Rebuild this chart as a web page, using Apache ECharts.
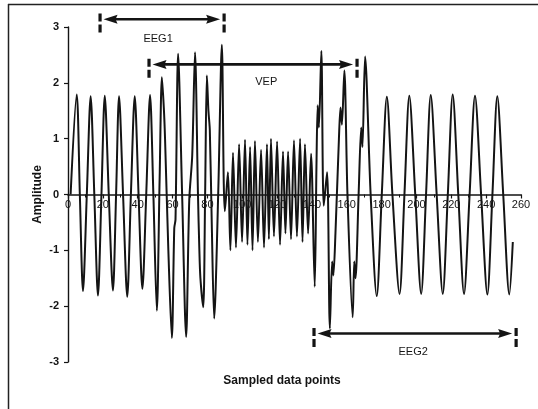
<!DOCTYPE html>
<html>
<head>
<meta charset="utf-8">
<style>
  html, body { margin: 0; padding: 0; background: #ffffff; }
  #chart { width: 538px; height: 409px; }
</style>
<script src="https://cdn.jsdelivr.net/npm/echarts@6/dist/echarts.min.js"></script>
</head>
<body>
<div id="chart"></div>
<script>
// ---- data ----
const xTickLabels = [0, 20, 40, 60, 80, 100, 120, 140, 160, 180, 200, 220, 240, 260];
const yTickLabels = [-3, -2, -1, 0, 1, 2, 3];

// sample positions (x) and amplitudes (y) of the traced signal
const sampleIdx = [
  1.5, 5.0, 6.8, 8.6, 10.8, 13.0, 15.1, 17.2, 19.2, 21.1, 23.4, 25.8, 27.6, 29.3, 31.6, 34.0,
  36.1, 38.3, 40.5, 42.7, 44.9, 47.1, 49.0, 51.0,
  52.6, 53.9, 55.0, 55.7, 57.6, 59.6, 61.0, 61.7, 63.2, 65.5, 67.8, 69.6, 71.3, 72.9, 74.6,
  75.4, 76.0, 77.6, 78.7, 79.7, 80.6, 81.4, 82.5, 83.9, 86.2, 88.3, 89.4, 90.0,
  91.8, 93.2, 94.7, 96.4, 98.2, 99.9, 101.6, 103.0, 104.5, 105.9, 107.3, 109.0, 110.8, 112.5,
  114.2, 115.3, 116.5, 118.2, 120.0, 121.7, 123.4, 124.8, 126.3, 128.0, 129.7, 131.4, 133.2,
  134.6, 136.0, 137.8, 139.5, 141.6,
  142.6, 143.3, 144.0, 145.4, 146.8, 148.7, 150.3, 151.6, 152.3, 153.5, 155.5, 156.4, 157.2,
  158.6, 160.4, 163.4, 164.3, 165.0, 166.8, 168.3, 169.0, 170.5, 173.7, 177.2, 180.1, 183.0,
  186.2,
  190.3, 193.1, 195.9, 199.3, 202.7, 205.5, 208.2, 211.6, 215.1, 218.0, 220.8, 224.0, 227.3,
  230.5, 233.6, 237.1, 240.7, 243.6, 246.4, 249.8, 253.3, 255.3
];
const amplitude = [
  0.00, 1.79, 0.00, -1.73, 0.00, 1.76, 0.00, -1.81, 0.00, 1.77, 0.00, -1.72, 0.00, 1.76, 0.00, -1.83,
  0.00, 1.76, 0.00, -1.69, 0.00, 1.78, 0.00, -2.08,
  0.30, 2.10, 1.55, 1.00, -1.00, -2.57, -0.60, -0.45, 2.52, 0.00, -2.55, -0.10, 0.70, 2.55, 0.00,
  -1.00, -1.50, -2.02, 0.00, 2.13, 1.50, 1.15, -0.50, -2.22, 0.00, 2.68, 0.20, -0.30,
  0.40, -1.00, 0.75, -0.95, 0.90, -0.85, 0.98, -0.90, 0.85, -1.00, 0.96, -0.85, 0.80, -0.95,
  0.90, -0.80, 1.00, -0.75, 0.95, -0.90, 0.77, -0.70, 0.77, -0.80, 0.97, -0.75, 1.00,
  -0.85, 0.90, -0.70, 0.73, -1.65,
  0.50, 1.60, 1.20, 2.57, -0.20, 0.40, -2.40, -1.20, -1.45, -0.70, 1.00, 1.56, 1.25,
  2.22, 0.00, -2.20, -1.20, -1.50, 0.00, 1.20, 0.85, 2.47, 0.00, -1.82, 0.00, 1.75,
  0.00,
  -1.78, 0.00, 1.77, 0.00, -1.78, 0.00, 1.78, 0.00, -1.78, 0.00, 1.79, 0.00, -1.78,
  0.00, 1.77, 0.00, -1.79, 0.00, 1.76, 0.00, -1.79, -0.85
];

// annotation segments (in sample / amplitude units)
const annNames  = ['EEG1', 'VEP', 'EEG2'];
const annStart  = [18.4, 46.5, 141.2];
const annEnd    = [89.6, 165.9, 257.2];
const annLevel  = [3.14, 2.33, -2.49];
const annLabelX = [51.7, 113.8, 198.1];
const annLabelY = [2.79, 2.01, -2.82];

// ---- chart ----
const chart = echarts.init(document.getElementById('chart'), null, { renderer: 'canvas' });
const ink = '#141414';
const fontFam = '"Liberation Sans", Arial, Helvetica, sans-serif';

const signal = sampleIdx.map((x, i) => [x, amplitude[i]]);
const annData = annNames.map((n, i) => [annStart[i], annEnd[i], annLevel[i], annLabelX[i], annLabelY[i]]);

const option = {
  animation: false,
  backgroundColor: '#ffffff',
  grid: [
    { left: 68, right: 17, top: 27, bottom: 47, containLabel: false },
    // helper grid whose bottom edge sits on the zero line: carries the x tick labels
    { left: 68, right: 17, top: 27, height: 167.5, containLabel: false }
  ],
  xAxis: [
    {
      type: 'value', gridIndex: 0,
      min: 0, max: 260, interval: 20,
      axisLine: { show: true, onZero: true, lineStyle: { color: ink, width: 1.6 } },
      axisTick: { show: true, inside: false, length: 4, lineStyle: { color: ink, width: 1.2 } },
      minorTick: { show: true, splitNumber: 2, length: 3, lineStyle: { color: ink, width: 1 } },
      axisLabel: { show: false },
      splitLine: { show: false }
    },
    {
      type: 'value', gridIndex: 1,
      min: 0, max: 260, interval: 20,
      axisLine: { show: false },
      axisTick: { show: false },
      axisLabel: {
        show: true, margin: 5, color: ink, fontSize: 11, fontFamily: fontFam,
        formatter: (v) => (xTickLabels.indexOf(v) >= 0 ? String(v) : '')
      },
      splitLine: { show: false }
    }
  ],
  yAxis: [
    {
      type: 'value', gridIndex: 0,
      min: -3, max: 3, interval: 1,
      name: 'Amplitude',
      nameLocation: 'middle',
      nameGap: 24,
      nameMoveOverlap: false,
      nameRotate: 90,
      nameTextStyle: { color: ink, fontSize: 12, fontWeight: 'bold', fontFamily: fontFam },
      axisLine: { show: true, onZero: false, lineStyle: { color: ink, width: 1.4 } },
      axisTick: { show: true, inside: false, length: 4, lineStyle: { color: ink, width: 1.2 } },
      axisLabel: {
        show: true, margin: 9, color: ink, fontSize: 11, fontWeight: 'bold', fontFamily: fontFam,
        formatter: (v) => (yTickLabels.indexOf(v) >= 0 ? String(v) : '')
      },
      splitLine: { show: false }
    },
    { type: 'value', gridIndex: 1, min: 0, max: 1, show: false }
  ],
  graphic: [
    { type: 'line', silent: true, shape: { x1: 8.5, y1: 4, x2: 8.5, y2: 409 }, style: { stroke: '#222', lineWidth: 1.5 } },
    { type: 'line', silent: true, shape: { x1: 8, y1: 4.5, x2: 538, y2: 4.5 }, style: { stroke: '#222', lineWidth: 1.5 } },
    {
      type: 'text', silent: true, x: 282, y: 381,
      style: { text: 'Sampled data points', fill: ink, font: 'bold 12px ' + fontFam, textAlign: 'center', textVerticalAlign: 'middle' }
    }
  ],
  series: [
    {
      type: 'line',
      xAxisIndex: 0, yAxisIndex: 0,
      data: signal,
      showSymbol: false,
      smooth: 0.3,
      lineStyle: { color: ink, width: 2 },
      z: 2
    },
    {
      type: 'custom',
      xAxisIndex: 0, yAxisIndex: 0,
      coordinateSystem: 'cartesian2d',
      clip: false,
      silent: true,
      data: annData,
      encode: { x: [0, 1, 3], y: [2, 4] },
      z: 3,
      renderItem: function (params, api) {
        const name = annNames[params.dataIndex];
        const lvl = api.value(2);
        const a = api.coord([api.value(0), lvl]);
        const b = api.coord([api.value(1), lvl]);
        const lab = api.coord([api.value(3), api.value(4)]);
        const topA = api.coord([api.value(0), lvl + 0.1])[1];
        const botA = api.coord([api.value(0), lvl - 0.25])[1];
        const y = a[1];
        const xl = a[0] + 3.5, xr = b[0] - 4;
        const headL = 14, headW = 4.5;
        const markerStyle = { stroke: ink, lineWidth: 3.2, lineDash: [8, 3] };
        return {
          type: 'group',
          children: [
            { type: 'line', shape: { x1: a[0], y1: topA, x2: a[0], y2: botA }, style: markerStyle },
            { type: 'line', shape: { x1: b[0], y1: topA, x2: b[0], y2: botA }, style: markerStyle },
            { type: 'line', shape: { x1: xl + 6, y1: y, x2: xr - 6, y2: y }, style: { stroke: ink, lineWidth: 2.6 } },
            { type: 'polygon', shape: { points: [[xl, y], [xl + headL, y - headW], [xl + headL - 2, y], [xl + headL, y + headW]] }, style: { fill: ink } },
            { type: 'polygon', shape: { points: [[xr, y], [xr - headL, y - headW], [xr - headL + 2, y], [xr - headL, y + headW]] }, style: { fill: ink } },
            {
              type: 'text', x: lab[0], y: lab[1],
              style: { text: name, fill: ink, font: '11px ' + fontFam, textAlign: 'center', textVerticalAlign: 'middle' }
            }
          ]
        };
      }
    }
  ]
};
chart.setOption(option);
</script>
</body>
</html>
